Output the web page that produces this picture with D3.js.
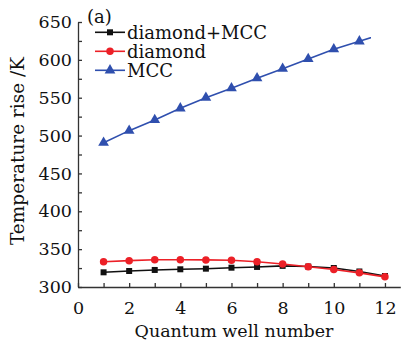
<!DOCTYPE html>
<html>
<head>
<meta charset="utf-8">
<script src="https://cdn.jsdelivr.net/npm/d3@7"></script>
<style>
  html, body { margin: 0; padding: 0; background: #fff; }
  svg { display: block; }
  text { font-family: "DejaVu Serif", "Liberation Serif", serif; fill: #111; }
</style>
</head>
<body>
<div id="app"></div>
<script>
// data
const wells = [1, 2, 3, 4, 5, 6, 7, 8, 9, 10, 11, 12]
const diamondMCC = [319.4, 321.1, 322.5, 323.4, 324.2, 325.5, 326.5, 327.9, 327.0, 325.1, 320.5, 314.5]
const diamond = [333.4, 334.8, 336.0, 336.0, 335.8, 335.3, 333.4, 330.4, 326.8, 323.2, 318.7, 313.4]
const mcc = [490.6, 506.5, 520.6, 536.0, 550.0, 562.5, 575.7, 588.4, 601.2, 614.0, 624.5, 635.0]
const seriesNames = ['diamond+MCC', 'diamond', 'MCC']
const xTicks = [0, 1, 2, 3, 4, 5, 6, 7, 8, 9, 10, 11, 12]
const yTicks = [300, 325, 350, 375, 400, 425, 450, 475, 500, 525, 550, 575, 600, 625, 650]

const W = 402, H = 343
const colors = ['#111111', '#ec2027', '#2f4fae']
const shapes = [d3.symbolSquare, d3.symbolCircle, d3.symbolTriangle]
const symSize = [36, 44, 50]

const x = d3.scaleLinear().domain([0, 12.6]).range([78, 400.3])
const y = d3.scaleLinear().domain([300, 650]).range([287, 22])

const svg = d3.select('#app').append('svg')
  .attr('width', W)
  .attr('height', H)

// the MCC curve is cut off just past well 11 in the original
svg.append('defs').append('clipPath')
  .attr('id', 'mccclip')
  .append('rect')
  .attr('x', x(0)).attr('y', 0)
  .attr('width', x(11.45) - x(0)).attr('height', H)

// axes
const yAxis = d3.axisLeft(y)
  .tickValues(yTicks)
  .tickSizeInner(-4)
  .tickSizeOuter(0)
  .tickPadding(6)
  .tickFormat(d => d % 50 === 0 ? d : '')

const gy = svg.append('g')
  .attr('transform', `translate(${x(0)},0)`)
  .call(yAxis)
gy.selectAll('text')
  .attr('font-size', 17.5)
  .attr('font-family', '"DejaVu Serif", serif')
  .attr('fill', '#111')

const xAxis = d3.axisBottom(x)
  .tickValues(xTicks)
  .tickSizeInner(-4)
  .tickSizeOuter(0)
  .tickFormat(d => d % 2 === 0 ? d : '')

const gx = svg.append('g')
  .attr('transform', `translate(0,${y(300)})`)
  .call(xAxis)
gx.selectAll('text')
  .attr('font-size', 17.5)
  .attr('font-family', '"DejaVu Serif", serif')
  .attr('fill', '#111')
  .attr('y', 27)
  .attr('dy', 0)

svg.selectAll('.domain, .tick line')
  .attr('stroke', '#333')
  .attr('stroke-width', 1.3)

// series
const allSeries = [diamondMCC, diamond, mcc]
const line = d3.line().x(d => x(d[0])).y(d => y(d[1]))

allSeries.forEach((vals, i) => {
  const pts = wells.map((w, j) => [w, vals[j]])
  const g = svg.append('g')
  if (i === 2) g.attr('clip-path', 'url(#mccclip)')
  g.append('path')
    .datum(pts)
    .attr('fill', 'none')
    .attr('stroke', colors[i])
    .attr('stroke-width', 1.6)
    .attr('d', line)
  g.selectAll('path.mk')
    .data(pts)
    .enter()
    .append('path')
    .attr('class', 'mk')
    .attr('d', d3.symbol().type(shapes[i]).size(symSize[i]))
    .attr('transform', d => `translate(${x(d[0])},${y(d[1])})`)
    .attr('fill', colors[i])
})

// axis titles
svg.append('text')
  .attr('x', 234)
  .attr('y', 337)
  .attr('text-anchor', 'middle')
  .attr('font-size', 17.5)
  .text('Quantum well number')

svg.append('text')
  .attr('transform', 'translate(24,151) rotate(-90)')
  .attr('text-anchor', 'middle')
  .attr('font-size', 18.5)
  .text('Temperature rise /K')

// panel label and legend
svg.append('text')
  .attr('x', 87)
  .attr('y', 23)
  .attr('font-size', 18)
  .text('(a)')

const legend = svg.append('g').attr('id', 'legend')
seriesNames.forEach((name, i) => {
  const ly = 32.3 + i * 19
  legend.append('line')
    .attr('x1', 95).attr('x2', 125)
    .attr('y1', ly).attr('y2', ly)
    .attr('stroke', colors[i])
    .attr('stroke-width', 1.6)
  legend.append('path')
    .attr('d', d3.symbol().type(shapes[i]).size(symSize[i]))
    .attr('transform', `translate(110,${ly})`)
    .attr('fill', colors[i])
  legend.append('text')
    .attr('x', 127)
    .attr('y', ly + 6.5)
    .attr('font-size', 18)
    .text(name)
})
</script>
</body>
</html>
